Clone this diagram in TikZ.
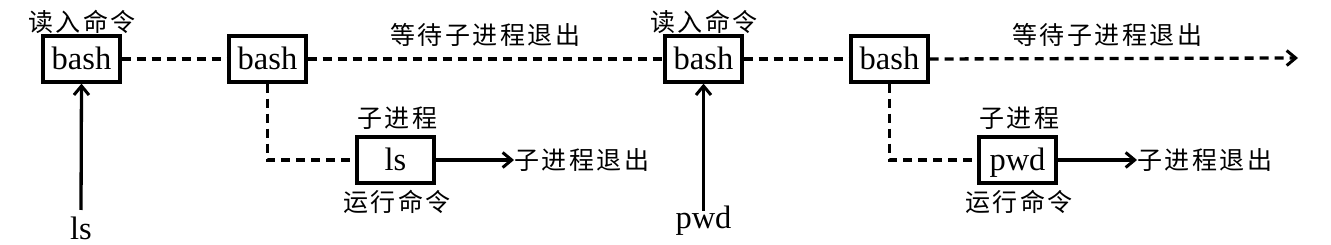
\documentclass[tikz,border=0pt]{standalone}
\usepackage{fontspec}
\setmainfont{Liberation Serif}
\newfontfamily\cjk[LetterSpace=10]{Noto Sans CJK SC}
\usetikzlibrary{arrows.meta}
\tikzset{
  procbox/.style={draw, line width=3.3pt, minimum width=77pt, minimum height=46pt, inner sep=0pt,
    font=\fontsize{32.5}{36}\selectfont, text height=22pt, text depth=0pt},
  cn/.style={inner sep=0pt, font=\cjk\fontsize{25}{30}\selectfont},
  lat/.style={inner sep=0pt, font=\fontsize{32.5}{36}\selectfont},
  dline/.style={line width=3.3pt, dash pattern=on 9pt off 6pt},
  sline/.style={line width=3.3pt},
  tip/.style={-{Straight Barb[length=9pt,width=15pt,line width=3pt]}}
}
\begin{document}
\begin{tikzpicture}[x=1pt,y=-1pt]
\useasboundingbox (0,0) rectangle (1331,245);
% boxes
\node[procbox] (b1) at (81.5,59) {bash};
\node[procbox] (b2) at (267.5,59) {bash};
\node[procbox] (b3) at (703.5,59) {bash};
\node[procbox] (b4) at (889.5,59) {bash};
\node[procbox] (c1) at (395.5,160) {ls};
\node[procbox] (c2) at (1017.5,160) {pwd};
% labels
\node[cn] (r1) at (82,22) {读入命令};
\node[cn] (r2) at (704,22) {读入命令};
\node[cn] (w1) at (485,35) {等待子进程退出};
\node[cn] (w2) at (1107,35) {等待子进程退出};
\node[cn] (s1) at (397,118) {子进程};
\node[cn] (s2) at (1019,118) {子进程};
\node[cn] (y1) at (397,202) {运行命令};
\node[cn] (y2) at (1019,202) {运行命令};
\node[cn, anchor=west] (e1) at (514,160) {子进程退出};
\node[cn, anchor=west] (e2) at (1137,160) {子进程退出};
% input commands
\node[lat, anchor=base] (i1) at (81,240) {ls};
\node[lat, anchor=base] (i2) at (703.5,229) {pwd};
\coordinate (i1t) at (81,210);
\coordinate (i2t) at (703.5,211);
\coordinate (end) at (1298,58);
% connectors
\draw[dline] (b1.east) -- (b2.west);
\draw[dline] (b2.east) -- (b3.west);
\draw[dline] (b3.east) -- (b4.west);
\draw[dline, tip] (b4.east) -- (end);
\draw[dline] (b2.south) |- (c1.west);
\draw[dline] (b4.south) |- (c2.west);
\draw[sline, tip] (c1.east) -- (e1.west);
\draw[sline, tip] (c2.east) -- (e2.west);
\draw[sline, tip] (i1t) -- (b1.south);
\draw[sline, tip] (i2t) -- (b3.south);
\end{tikzpicture}
\end{document}
